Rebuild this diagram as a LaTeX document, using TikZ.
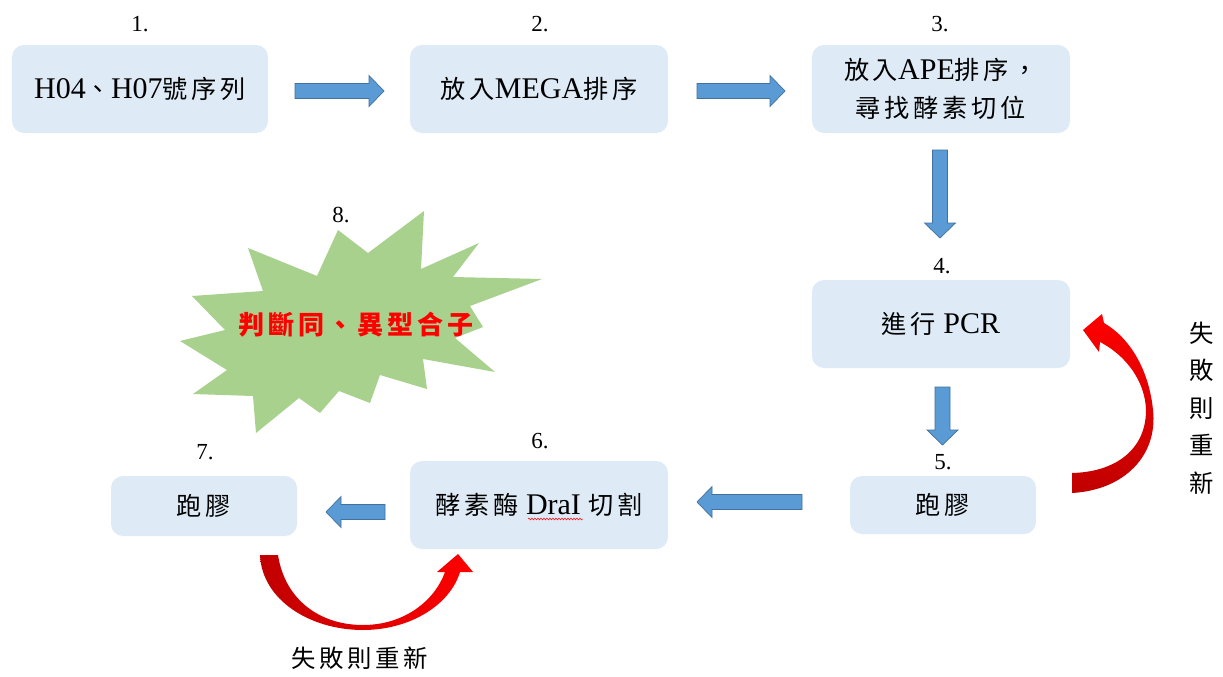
\documentclass[tikz,border=0pt]{standalone}
\usepackage{fontspec}
\setmainfont{Liberation Serif}
\newfontfamily\cjk[Scale=0.84,LetterSpace=15]{Noto Sans CJK TC}
\usetikzlibrary{decorations.pathmorphing}
\definecolor{boxfill}{HTML}{DEEBF7}
\definecolor{arrowblue}{HTML}{5B9BD5}
\definecolor{arrowedge}{HTML}{41719C}
\definecolor{burst}{HTML}{A9D18E}
\definecolor{darkred}{HTML}{C00000}
\newcommand\zh[1]{{\cjk #1}}
\tikzset{
  stepbox/.style={rectangle, rounded corners=12pt, fill=boxfill, inner sep=0pt,
    align=center, font=\fontsize{30}{38}\selectfont},
  numlabel/.style={font=\fontsize{23}{26}\selectfont, inner sep=0pt},
  blockarrow/.style={fill=arrowblue, draw=arrowedge, line width=0.7pt},
  pics/barrow/.style={code={
    \path[blockarrow] (0,-7.5) -- ({#1-15},-7.5) -- ({#1-15},-15.5) -- (#1,0)
      -- ({#1-15},15.5) -- ({#1-15},7.5) -- (0,7.5) -- cycle;}},
  sidetext/.style={align=center, inner sep=0pt, font=\fontsize{29}{37.5}\selectfont}
}
\begin{document}
\begin{tikzpicture}[x=1pt,y=-1pt]
\useasboundingbox[fill=white] (0,0) rectangle (1223,677);

% boxes
\node[stepbox, minimum width=256pt, minimum height=88pt] (b1) at (140,89) {H04\zh{、}H07\zh{號序列}};
\node[stepbox, minimum width=258pt, minimum height=88pt] (b2) at (539,89) {\zh{放入}MEGA\zh{排序}};
\node[stepbox, minimum width=258pt, minimum height=88pt] (b3) at (941,89) {\zh{放入}APE\zh{排序，}\\\zh{尋找酵素切位}};
\node[stepbox, minimum width=258pt, minimum height=88pt] (b4) at (941,324) {\zh{進行} PCR};
\node[stepbox, minimum width=186pt, minimum height=58pt] (b5) at (943,505) {\zh{跑膠}};
\node[stepbox, minimum width=258pt, minimum height=88pt] (b6) at (539,505) {\zh{酵素酶} DraI \zh{切割}};
\node[stepbox, minimum width=186pt, minimum height=60pt] (b7) at (204,506) {\zh{跑膠}};
\draw[red, line width=0.5pt, decorate, decoration={snake, amplitude=0.9pt, segment length=3pt}] (528,519) -- (583,519);

% number labels
\node[numlabel] (l1) at (140,24) {1.};
\node[numlabel] (l2) at (540,24) {2.};
\node[numlabel] (l3) at (940,24) {3.};
\node[numlabel] (l4) at (942,266) {4.};
\node[numlabel] (l5) at (943,462) {5.};
\node[numlabel] (l6) at (540,441) {6.};
\node[numlabel] (l7) at (205,452) {7.};
\node[numlabel] (l8) at (341,215) {8.};

% block arrows
\pic at (295,91) {barrow=89};
\pic at (697,91) {barrow=88};
\pic[rotate=-90] at (940,150) {barrow=88};
\pic[rotate=-90] at (942.5,387) {barrow=58};
\pic[rotate=180] at (802,502) {barrow=105};
\pic[rotate=180] at (385,512) {barrow=59};

% starburst
\fill[burst] (338,230) -- (368,253) -- (424,211) -- (421,269) -- (479,243) -- (453,277)
  -- (542,279) -- (470,306) -- (483,327) -- (455,338) -- (495,372) -- (423,359)
  -- (427,389) -- (380,375) -- (370,403) -- (339,391) -- (320,413) -- (299,398)
  -- (256,433) -- (253,396) -- (193,394) -- (227,370) -- (180,341) -- (225,330)
  -- (192,296) -- (263,291) -- (248,248) -- (317,276) -- cycle;
\node[inner sep=0pt, text=red, font=\fontsize{31}{34}\selectfont\bfseries] (t8) at (356,325) {\zh{判斷同、異型合子}};

% red curved arrows
\shade[top color=red, bottom color=darkred]
  (1072,493) .. controls (1125,490) and (1158,455) .. (1153,410)
  .. controls (1149,370) and (1130,338) .. (1104,323)
  -- (1102,314) -- (1083,330) -- (1099,352) -- (1100,342)
  .. controls (1125,355) and (1145,380) .. (1146,410)
  .. controls (1146,450) and (1115,472) .. (1072,473) -- cycle;
\shade[left color=darkred, right color=red]
  (260,555) .. controls (262,600) and (310,630) .. (363,630)
  .. controls (410,630) and (450,605) .. (460,572)
  -- (473,572) -- (458,554) -- (437,572) -- (445,572)
  .. controls (435,600) and (405,625) .. (363,625)
  .. controls (320,625) and (285,600) .. (278,555) -- cycle;

\node[sidetext] (f1) at (1202,408) {\zh{失}\\\zh{敗}\\\zh{則}\\\zh{重}\\\zh{新}};
\node[sidetext] (f2) at (360,658) {\zh{失敗則重新}};
\end{tikzpicture}
\end{document}
